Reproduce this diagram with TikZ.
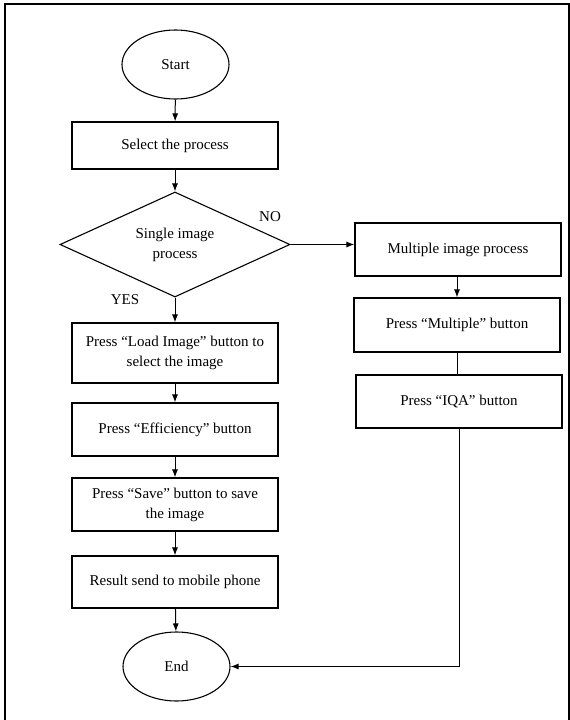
\documentclass[tikz,border=0pt]{standalone}
\usepackage{fontspec}
\setmainfont{Liberation Serif}
\usetikzlibrary{shapes.geometric,arrows.meta}

\tikzset{
  txt/.style={font=\fontsize{15}{20}\selectfont},
  procBox/.style={txt, draw, rectangle, line width=1.1pt, minimum width=206pt,
    inner sep=0pt, align=center},
  terminal/.style={txt, draw, ellipse, line width=1.1pt, minimum width=107pt,
    minimum height=69pt, inner sep=0pt},
  decision/.style={txt, draw, diamond, line width=1.1pt, aspect=2.2,
    minimum width=230pt, minimum height=105pt, inner sep=0pt, align=center},
  flow/.style={-{Latex[length=8pt,width=6pt]}, line width=1pt},
}

\begin{document}
\begin{tikzpicture}[x=1pt,y=-1pt]%[show background grid]
    \useasboundingbox (0,0) rectangle (570,720);
    \draw[line width=1.5pt] (5,724) -- (5,4) -- (569,4) -- (569,724);

    \node[terminal] (start) at (175.5,64.5) {Start};
    \node[procBox, minimum height=47pt] (selectProcess) at (175,145.5) {Select the process};
    \node[decision] (singleImage) at (175,244.5) {Single image\\process};
    \node[procBox, minimum height=60pt] (loadImage) at (175,353) {Press “Load Image” button to\\select the image};
    \node[procBox, minimum height=53pt] (efficiency) at (175,429.5) {Press “Efficiency” button};
    \node[procBox, minimum height=53pt] (saveImage) at (175,504.5) {Press “Save” button to save\\the image};
    \node[procBox, minimum height=52pt] (sendResult) at (175,582) {Result send to mobile phone};
    \node[terminal] (end) at (176.5,666.5) {End};

    \node[procBox, minimum height=53pt] (multipleImage) at (458,249.5) {Multiple image process};
    \node[procBox, minimum height=54pt] (pressMultiple) at (457,325) {Press “Multiple” button};
    \node[procBox, minimum height=53pt] (pressIQA) at (459,401.5) {Press “IQA” button};

    \node[txt] (no) at (270,217) {NO};
    \node[txt] (yes) at (125,300) {YES};

    \draw[flow] (start) -- (selectProcess);
    \draw[flow] (selectProcess) -- (singleImage);
    \draw[flow] (singleImage.east) -- (singleImage.east -| multipleImage.west);
    \draw[flow] (singleImage) -- (loadImage);
    \draw[flow] (loadImage) -- (efficiency);
    \draw[flow] (efficiency) -- (saveImage);
    \draw[flow] (saveImage) -- (sendResult);
    \draw[flow] (sendResult) -- (end);

    \draw[flow] (multipleImage.south -| pressMultiple.north) -- (pressMultiple.north);
    \draw[line width=1pt] (pressMultiple.south) -- (pressMultiple.south |- pressIQA.north);
    \draw[flow] (pressIQA.south) |- (end.east);
\end{tikzpicture}
\end{document}
